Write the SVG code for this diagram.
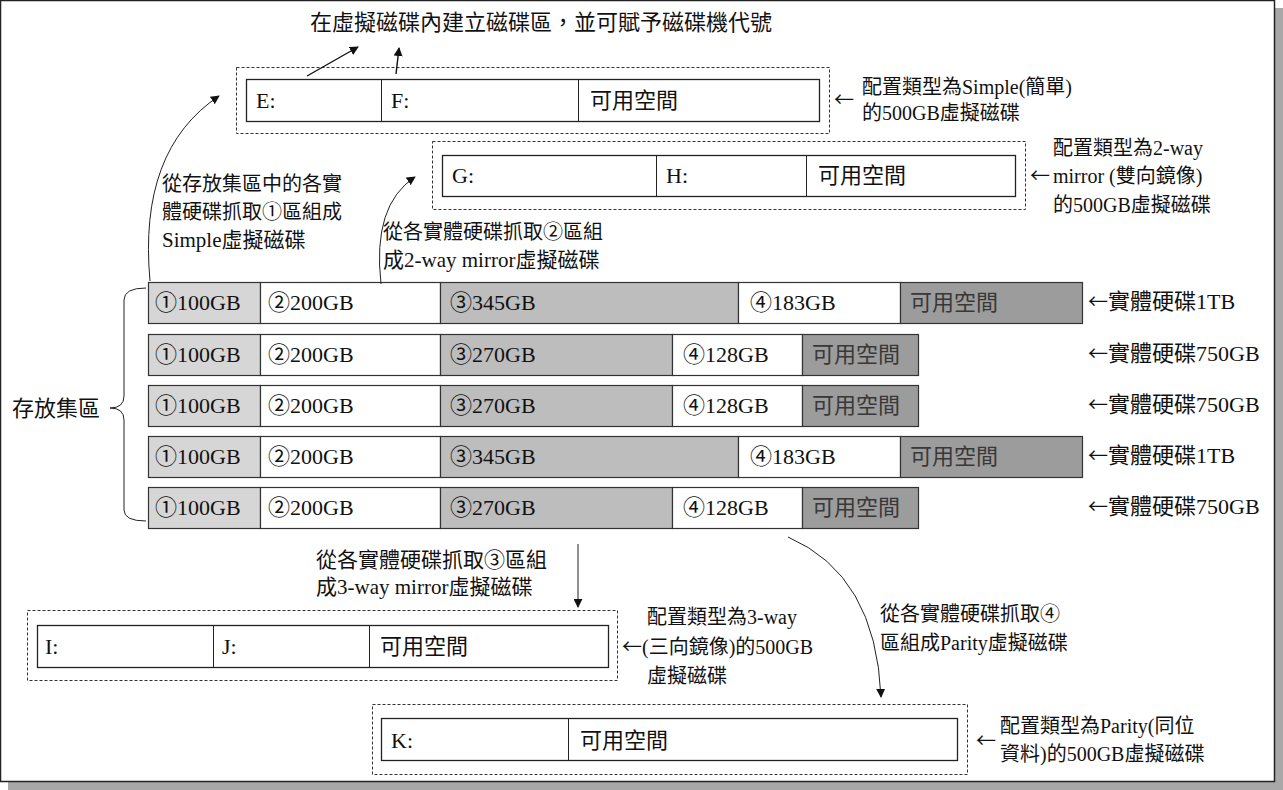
<svg xmlns="http://www.w3.org/2000/svg" width="1283" height="790" viewBox="0 0 1283 790">
<style>
text{font-family:"Liberation Serif","Noto Sans CJK TC",serif;font-size:20px;fill:#111}
.big{font-size:22px}
.t21{font-size:21px}
.arw{font-family:"Noto Sans CJK TC",sans-serif;font-size:20px}
.dash{fill:none;stroke:#333;stroke-width:1;stroke-dasharray:3 2}
.box{fill:#fff;stroke:#222;stroke-width:1.3}
.seg{stroke:#333;stroke-width:1.2}
.s1{fill:#d6d6d6}
.s2{fill:#fff}
.s3{fill:#bdbdbd}
.s4{fill:#fff}
.s5{fill:#9c9c9c}
.free{fill:#383838}
.ln{fill:none;stroke:#111;stroke-width:1.4}
.thin{fill:none;stroke:#222;stroke-width:1}
</style>
<defs>
<marker id="ah" viewBox="0 0 10 10" refX="9" refY="5" markerWidth="9" markerHeight="9" markerUnits="userSpaceOnUse" orient="auto">
<path d="M0,0 L10,5 L0,10 z" fill="#111"/>
</marker>
</defs>
<rect width="1283" height="790" fill="#fff"/>
<g id="frame">
<rect x="8" y="782" width="1275" height="8" fill="#a8a8a8"/>
<rect x="1275" y="8" width="8" height="782" fill="#a8a8a8"/>
<rect x="0.5" y="0.5" width="1274" height="781" fill="#fff" stroke="#222" stroke-width="1.5"/>
</g>
<g id="title"><text class="big" x="310" y="30">在虛擬磁碟內建立磁碟區，並可賦予磁碟機代號</text></g>

<g id="vdisk-simple">
<rect class="dash" x="236.5" y="67.5" width="593" height="66"/>
<rect class="box" x="246.5" y="79.5" width="573" height="42"/>
<line class="thin" x1="381.5" y1="79.5" x2="381.5" y2="121.5"/>
<line class="thin" x1="578.5" y1="79.5" x2="578.5" y2="121.5"/>
<text class="big" x="256" y="108">E:</text><text class="big" x="391" y="108">F:</text><text class="big" x="590" y="108">可用空間</text>
<text class="arw" x="834" y="107">←</text>
<text x="862" y="94">配置類型為Simple(簡單)</text>
<text x="862" y="120">的500GB虛擬磁碟</text>
</g>

<g id="vdisk-2way">
<rect class="dash" x="432.5" y="141.5" width="593" height="68"/>
<rect class="box" x="442.5" y="155.5" width="573" height="41"/>
<line class="thin" x1="656.5" y1="155.5" x2="656.5" y2="196.5"/>
<line class="thin" x1="806.5" y1="155.5" x2="806.5" y2="196.5"/>
<text class="big" x="452" y="183">G:</text><text class="big" x="666" y="183">H:</text><text class="big" x="818" y="183">可用空間</text>
<text x="1053" y="155">配置類型為2-way</text>
<text class="arw" x="1030" y="183">←</text>
<text x="1053" y="183">mirror (雙向鏡像)</text>
<text x="1053" y="212">的500GB虛擬磁碟</text>
</g>

<g id="label-simple">
<text x="162" y="191">從存放集區中的各實</text>
<text x="162" y="219">體硬碟抓取①區組成</text>
<text class="t21" x="162" y="247">Simple虛擬磁碟</text>
</g>
<g id="label-2way">
<text x="383" y="239">從各實體硬碟抓取②區組</text>
<text class="t21" x="383" y="267">成2-way mirror虛擬磁碟</text>
</g>

<g id="pool">
<g id="disk1">
<rect class="seg s1" x="148.5" y="282.5" width="112" height="41"/>
<rect class="seg s2" x="260.5" y="282.5" width="180" height="41"/>
<rect class="seg s3" x="440.5" y="282.5" width="298" height="41"/>
<rect class="seg s4" x="738.5" y="282.5" width="162" height="41"/>
<rect class="seg s5" x="900.5" y="282.5" width="182" height="41"/>
<text class="big" x="155" y="310">①100GB</text><text class="big" x="268" y="310">②200GB</text><text class="big" x="450" y="310">③345GB</text><text class="big" x="750" y="310">④183GB</text><text class="big free" x="910" y="310">可用空間</text>
<text class="big" x="1088" y="309"><tspan class="arw">←</tspan>實體硬碟1TB</text>
</g>
<g id="disk2">
<rect class="seg s1" x="148.5" y="334.5" width="112" height="41"/>
<rect class="seg s2" x="260.5" y="334.5" width="180" height="41"/>
<rect class="seg s3" x="440.5" y="334.5" width="232" height="41"/>
<rect class="seg s4" x="672.5" y="334.5" width="130" height="41"/>
<rect class="seg s5" x="802.5" y="334.5" width="116" height="41"/>
<text class="big" x="155" y="362">①100GB</text><text class="big" x="268" y="362">②200GB</text><text class="big" x="450" y="362">③270GB</text><text class="big" x="683" y="362">④128GB</text><text class="big free" x="812" y="362">可用空間</text>
<text class="big" x="1088" y="361"><tspan class="arw">←</tspan>實體硬碟750GB</text>
</g>
<g id="disk3">
<rect class="seg s1" x="148.5" y="385.5" width="112" height="41"/>
<rect class="seg s2" x="260.5" y="385.5" width="180" height="41"/>
<rect class="seg s3" x="440.5" y="385.5" width="232" height="41"/>
<rect class="seg s4" x="672.5" y="385.5" width="130" height="41"/>
<rect class="seg s5" x="802.5" y="385.5" width="116" height="41"/>
<text class="big" x="155" y="413">①100GB</text><text class="big" x="268" y="413">②200GB</text><text class="big" x="450" y="413">③270GB</text><text class="big" x="683" y="413">④128GB</text><text class="big free" x="812" y="413">可用空間</text>
<text class="big" x="1088" y="412"><tspan class="arw">←</tspan>實體硬碟750GB</text>
</g>
<g id="disk4">
<rect class="seg s1" x="148.5" y="436.5" width="112" height="41"/>
<rect class="seg s2" x="260.5" y="436.5" width="180" height="41"/>
<rect class="seg s3" x="440.5" y="436.5" width="298" height="41"/>
<rect class="seg s4" x="738.5" y="436.5" width="162" height="41"/>
<rect class="seg s5" x="900.5" y="436.5" width="182" height="41"/>
<text class="big" x="155" y="464">①100GB</text><text class="big" x="268" y="464">②200GB</text><text class="big" x="450" y="464">③345GB</text><text class="big" x="750" y="464">④183GB</text><text class="big free" x="910" y="464">可用空間</text>
<text class="big" x="1088" y="463"><tspan class="arw">←</tspan>實體硬碟1TB</text>
</g>
<g id="disk5">
<rect class="seg s1" x="148.5" y="487.5" width="112" height="41"/>
<rect class="seg s2" x="260.5" y="487.5" width="180" height="41"/>
<rect class="seg s3" x="440.5" y="487.5" width="232" height="41"/>
<rect class="seg s4" x="672.5" y="487.5" width="130" height="41"/>
<rect class="seg s5" x="802.5" y="487.5" width="116" height="41"/>
<text class="big" x="155" y="515">①100GB</text><text class="big" x="268" y="515">②200GB</text><text class="big" x="450" y="515">③270GB</text><text class="big" x="683" y="515">④128GB</text><text class="big free" x="812" y="515">可用空間</text>
<text class="big" x="1088" y="514"><tspan class="arw">←</tspan>實體硬碟750GB</text>
</g>
<g id="pool-label">
<path class="thin" d="M146,288 Q124,288 124,300 L124,396 Q124,408 110,408 Q124,408 124,420 L124,510 Q124,521 146,521"/>
<text class="big" x="12" y="416">存放集區</text>
</g>
</g>

<g id="label-3way">
<text class="t21" x="316" y="567">從各實體硬碟抓取③區組</text>
<text class="t21" x="316" y="594">成3-way mirror虛擬磁碟</text>
</g>
<g id="vdisk-3way">
<rect class="dash" x="27.5" y="610.5" width="590" height="70"/>
<rect class="box" x="37.5" y="625.5" width="571" height="42"/>
<line class="thin" x1="213.5" y1="625.5" x2="213.5" y2="667.5"/>
<line class="thin" x1="369.5" y1="625.5" x2="369.5" y2="667.5"/>
<text class="big" x="45" y="654">I:</text><text class="big" x="222" y="654">J:</text><text class="big" x="380" y="654">可用空間</text>
<text x="647" y="624">配置類型為3-way</text>
<text x="622" y="654"><tspan class="arw">←</tspan>(三向鏡像)的500GB</text>
<text x="647" y="683">虛擬磁碟</text>
</g>

<g id="label-parity">
<text x="880" y="621">從各實體硬碟抓取④</text>
<text x="880" y="650">區組成Parity虛擬磁碟</text>
</g>
<g id="vdisk-parity">
<rect class="dash" x="372.5" y="704.5" width="595" height="70"/>
<rect class="box" x="381.5" y="718.5" width="576" height="42"/>
<line class="thin" x1="568.5" y1="718.5" x2="568.5" y2="760.5"/>
<text class="big" x="391" y="748">K:</text><text class="big" x="580" y="748">可用空間</text>
<text class="arw" x="976" y="748">←</text>
<text x="1000" y="733">配置類型為Parity(同位</text>
<text x="1000" y="761">資料)的500GB虛擬磁碟</text>
</g>

<g id="connectors">
<line class="ln" x1="307" y1="76" x2="358" y2="47" marker-end="url(#ah)"/>
<line class="ln" x1="396" y1="74" x2="399" y2="48" marker-end="url(#ah)"/>
<path class="thin" d="M150,281 Q138,150 219,96" marker-end="url(#ah)"/>
<path class="thin" d="M381,284 Q372,205 415,177" marker-end="url(#ah)"/>
<line class="thin" x1="578" y1="544" x2="578" y2="607" marker-end="url(#ah)"/>
<path class="thin" d="M788,537 Q876,575 881,697" marker-end="url(#ah)"/>
</g>
</svg>
